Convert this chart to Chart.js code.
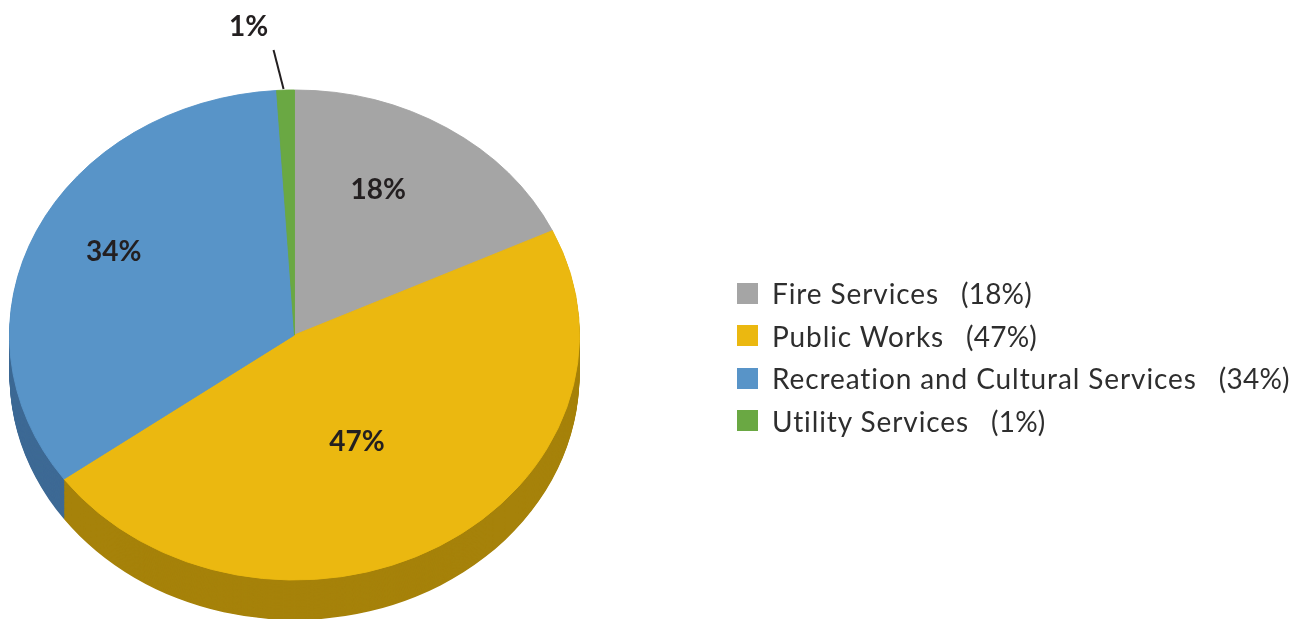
<!DOCTYPE html>
<html><head><meta charset="utf-8">
<script src="https://cdn.jsdelivr.net/npm/chart.js@4.4.1/dist/chart.umd.min.js"></script>
<style>
html,body{margin:0;padding:0;background:#fff;}
#wrap{position:relative;width:1311px;height:619px;overflow:hidden;}
canvas{position:absolute;left:0;top:0;}
#legend{position:absolute;left:737px;top:272px;font-family:Lato, sans-serif;font-size:28px;font-weight:400;letter-spacing:0.9px;color:#2e2e2e;}
.item{display:flex;align-items:center;height:42.5px;white-space:pre;}
.box{width:21px;height:21px;margin-right:14px;flex:none;}
.pct{margin-left:22px;letter-spacing:0.2px;}
#pre{position:absolute;left:-9999px;top:0;font:bold 28px Lato;}
</style></head><body>
<div id="wrap"><canvas id="c" width="1311" height="619"></canvas><div id="legend"></div></div>
<div id="pre">0123456789%</div>
<script>
const categories = ['Fire Services', 'Public Works', 'Recreation and Cultural Services', 'Utility Services'];
const shares = [18, 47, 34, 1];
const topColors = ['#A5A5A5', '#EBB810', '#5894C8', '#6AA843'];
const sideColors = ['#767676', '#A6820A', '#3E6A95', '#4B7A2F'];

// visual style of the tilted pie
const PIE = { centerY: 335, tilt: 245 / 285, depth: 40, radius: 285 };
// label placement tweaks (angle shift in degrees, radius fraction)
const labelTweak = [{ da: -6, f: 0.66 }, { da: 4, f: 0.49 }, { da: 3, f: 0.72 }, { da: 0, f: 1 }];
const LABEL_FONT = 'bold 28px Lato, sans-serif';

// HTML legend
const legendEl = document.getElementById('legend');
categories.forEach((c, i) => {
  const row = document.createElement('div');
  row.className = 'item';
  row.innerHTML = '<span class="box" style="background:' + topColors[i] + '"></span><span>' + c + '</span><span class="pct">(' + shares[i] + '%)</span>';
  legendEl.appendChild(row);
});

const pie3d = {
  id: 'pie3d',
  beforeDatasetsDraw(chart) {
    const ctx = chart.ctx;
    const arcs = chart.getDatasetMeta(0).data;
    const cx = arcs[0].x, cy = arcs[0].y;
    ctx.save();
    ctx.translate(cx, PIE.centerY);
    ctx.scale(1, PIE.tilt);
    ctx.translate(-cx, -cy);
    const depth = PIE.depth / PIE.tilt;
    for (let off = depth; off > 0; off -= 1) {
      arcs.forEach((a, i) => {
        const p = a.getProps(['x', 'y', 'startAngle', 'endAngle', 'outerRadius']);
        ctx.beginPath();
        ctx.moveTo(p.x, p.y + off);
        ctx.arc(p.x, p.y + off, p.outerRadius, p.startAngle, p.endAngle);
        ctx.closePath();
        ctx.fillStyle = sideColors[i];
        ctx.fill();
      });
    }
  },
  afterDatasetsDraw(chart) {
    const ctx = chart.ctx;
    ctx.restore();
    const arcs = chart.getDatasetMeta(0).data;
    ctx.save();
    ctx.font = LABEL_FONT;
    ctx.fillStyle = '#231F20';
    ctx.textAlign = 'center';
    ctx.textBaseline = 'middle';
    arcs.forEach((a, i) => {
      const p = a.getProps(['x', 'y', 'startAngle', 'endAngle', 'outerRadius']);
      const mid = (p.startAngle + p.endAngle) / 2 + labelTweak[i].da * Math.PI / 180;
      const text = shares[i] + '%';
      if (shares[i] < 5) {
        const rx = p.x + p.outerRadius * Math.cos(mid);
        const ry = PIE.centerY + p.outerRadius * Math.sin(mid) * PIE.tilt;
        ctx.strokeStyle = '#231F20';
        ctx.lineWidth = 2;
        ctx.beginPath();
        ctx.moveTo(rx - 2, ry - 1);
        ctx.lineTo(rx - 12, ry - 40);
        ctx.stroke();
        ctx.fillText(text, rx - 37, ry - 63);
      } else {
        const r = p.outerRadius * labelTweak[i].f;
        const x = p.x + r * Math.cos(mid);
        const y = PIE.centerY + r * Math.sin(mid) * PIE.tilt;
        ctx.fillText(text, x, y);
      }
    });
    ctx.restore();
  }
};

function build() {
  new Chart(document.getElementById('c'), {
    type: 'pie',
    data: {
      labels: categories,
      datasets: [{
        data: shares,
        backgroundColor: topColors,
        borderColor: topColors,
        borderWidth: 1,
        radius: PIE.radius
      }]
    },
    options: {
      responsive: false,
      animation: false,
      events: [],
      layout: { padding: { left: 0, right: 722, top: 0, bottom: 0 } },
      plugins: { legend: { display: false }, tooltip: { enabled: false } }
    },
    plugins: [pie3d]
  });
}

if (document.fonts && document.fonts.load) {
  let done = false;
  const go = () => { if (!done) { done = true; build(); } };
  document.fonts.load(LABEL_FONT, '0123456789%').then(go, go);
  setTimeout(go, 300);
} else {
  build();
}
</script>
</body></html>
